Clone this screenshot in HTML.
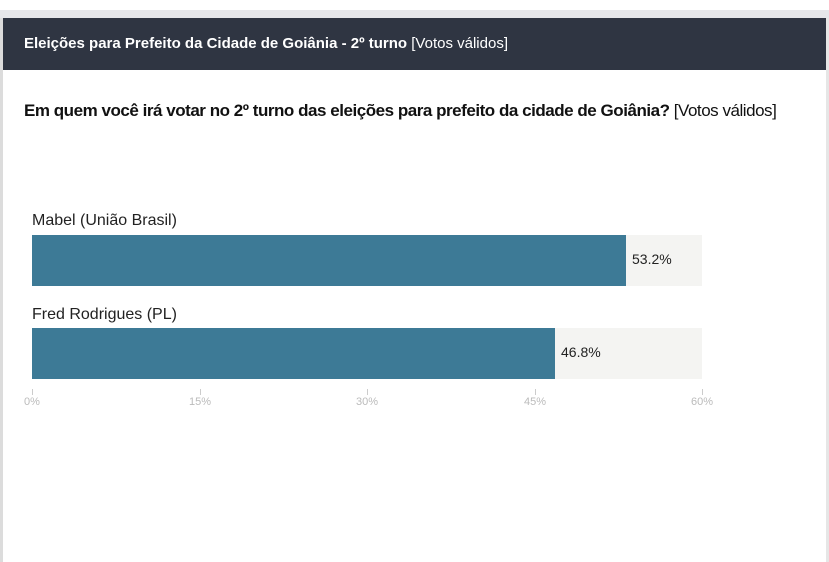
<!DOCTYPE html>
<html><head><meta charset="utf-8"><style>
body{margin:0;width:829px;height:562px;background:#fff;position:relative;overflow:hidden;font-family:"Liberation Sans","DejaVu Sans",sans-serif;}
.a{position:absolute;white-space:nowrap;}
</style></head><body>
<div class="a" style="left:0;top:10px;width:829px;height:8px;background:#e6e7ea"></div>
<div class="a" style="left:3px;top:18px;width:823px;height:52px;background:#2f3542"></div>
<div class="a" style="left:0;top:18px;width:3px;height:544px;background:#dcdcdc"></div>
<div class="a" style="left:826px;top:18px;width:3px;height:544px;background:#e6e6e6"></div>
<div class="a" style="left:24px;top:35px;font-size:15px;color:#fff;letter-spacing:0px"><b>Eleições para Prefeito da Cidade de Goiânia - 2º turno</b> [Votos válidos]</div>
<div class="a" style="left:24px;top:101px;font-size:17px;color:#111;letter-spacing:-0.47px"><b>Em quem você irá votar no 2º turno das eleições para prefeito da cidade de Goiânia?</b> [Votos válidos]</div>
<div class="a" style="left:32px;top:212px;font-size:16px;color:#222;letter-spacing:0px">Mabel (União Brasil)</div>
<div class="a" style="left:32px;top:235px;width:670px;height:51px;background:#f4f4f2"></div>
<div class="a" style="left:32px;top:235px;width:594px;height:51px;background:#3d7a96"></div>
<div class="a" style="left:632px;top:251px;font-size:14px;color:#222">53.2%</div>
<div class="a" style="left:32px;top:306px;font-size:16px;color:#222;letter-spacing:0px">Fred Rodrigues (PL)</div>
<div class="a" style="left:32px;top:328px;width:670px;height:51px;background:#f4f4f2"></div>
<div class="a" style="left:32px;top:328px;width:523px;height:51px;background:#3d7a96"></div>
<div class="a" style="left:561px;top:344px;font-size:14px;color:#222">46.8%</div>
<div class="a" style="left:32px;top:389px;width:1px;height:6px;background:#ccc"></div>
<div class="a" style="left:200px;top:389px;width:1px;height:6px;background:#ccc"></div>
<div class="a" style="left:367px;top:389px;width:1px;height:6px;background:#ccc"></div>
<div class="a" style="left:535px;top:389px;width:1px;height:6px;background:#ccc"></div>
<div class="a" style="left:702px;top:389px;width:1px;height:6px;background:#ccc"></div>
<div class="a" style="left:17px;top:396px;width:30px;text-align:center;font-size:11px;color:#bbb">0%</div>
<div class="a" style="left:180px;top:396px;width:40px;text-align:center;font-size:11px;color:#bbb">15%</div>
<div class="a" style="left:347px;top:396px;width:40px;text-align:center;font-size:11px;color:#bbb">30%</div>
<div class="a" style="left:515px;top:396px;width:40px;text-align:center;font-size:11px;color:#bbb">45%</div>
<div class="a" style="left:682px;top:396px;width:40px;text-align:center;font-size:11px;color:#bbb">60%</div>
</body></html>
